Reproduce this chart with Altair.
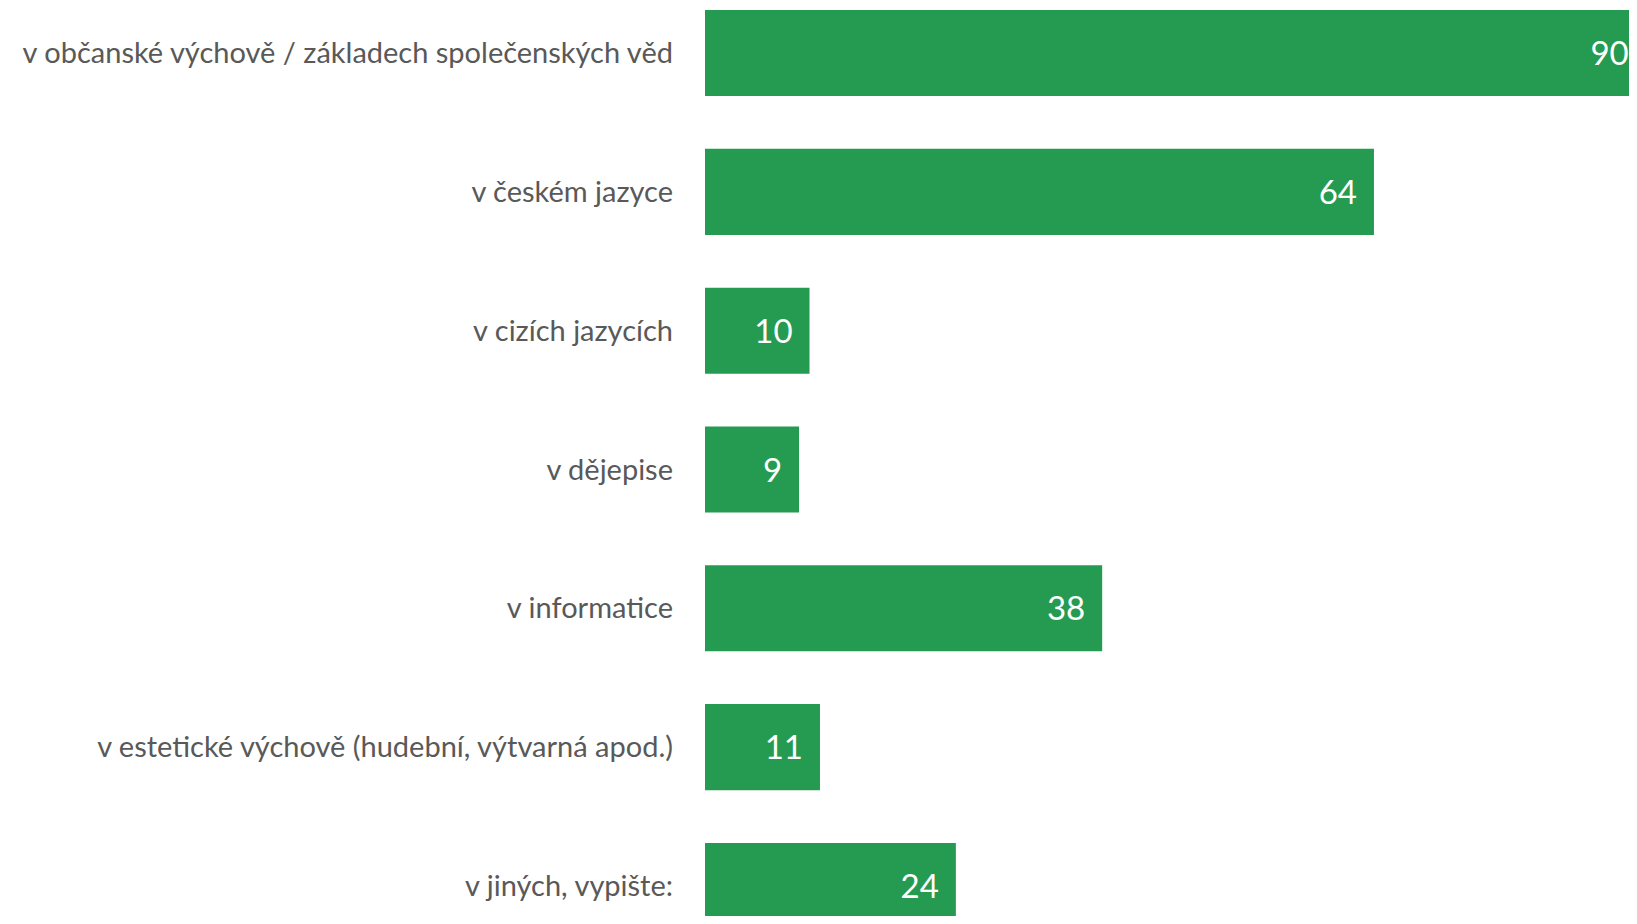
import altair as alt
import pandas as pd

categories = [
    "v občanské výchově / základech společenských věd",
    "v českém jazyce",
    "v cizích jazycích",
    "v dějepise",
    "v informatice",
    "v estetické výchově (hudební, výtvarná apod.)",
    "v jiných, vypište:",
]
values = [90, 64, 10, 9, 38, 11, 24]

df = pd.DataFrame({"cat": categories, "val": values})

FONT = "Lato"
GREEN = "#259b52"

y = alt.Y(
    "cat:N",
    sort=categories,
    title=None,
    scale=alt.Scale(range=[0, 919], paddingInner=0.38, paddingOuter=0),
    axis=None,
)
x = alt.X("val:Q", title=None, scale=alt.Scale(domain=[0, 88.4], nice=False), axis=None)

bars = alt.Chart(df).mark_bar(color=GREEN, strokeWidth=0).encode(x=x, y=y)
text = alt.Chart(df).mark_text(
    align="right", baseline="middle", dx=-17, dy=2, color="white", font=FONT, fontSize=33
).encode(x=x, y=y, text="val:Q")
labels = alt.Chart(df).mark_text(
    align="right", baseline="middle", dy=1, color="#595959", font=FONT, fontSize=29
).encode(x=alt.value(-32), y=alt.Y("cat:N", sort=categories, axis=None), text="cat:N")

chart = (
    alt.layer(bars, text, labels)
    .properties(
        width=924,
        height=906,
        autosize=alt.AutoSizeParams(type="none"),
        padding={"left": 697, "top": 2, "right": 0, "bottom": 0},
        view=alt.ViewBackground(stroke="transparent", strokeWidth=0, fill="white"),
    )
    .configure_view(stroke="transparent", strokeWidth=0)
    .configure(background="white")
)

chart.save("out.html", embed_options={"renderer": "svg", "actions": False})
